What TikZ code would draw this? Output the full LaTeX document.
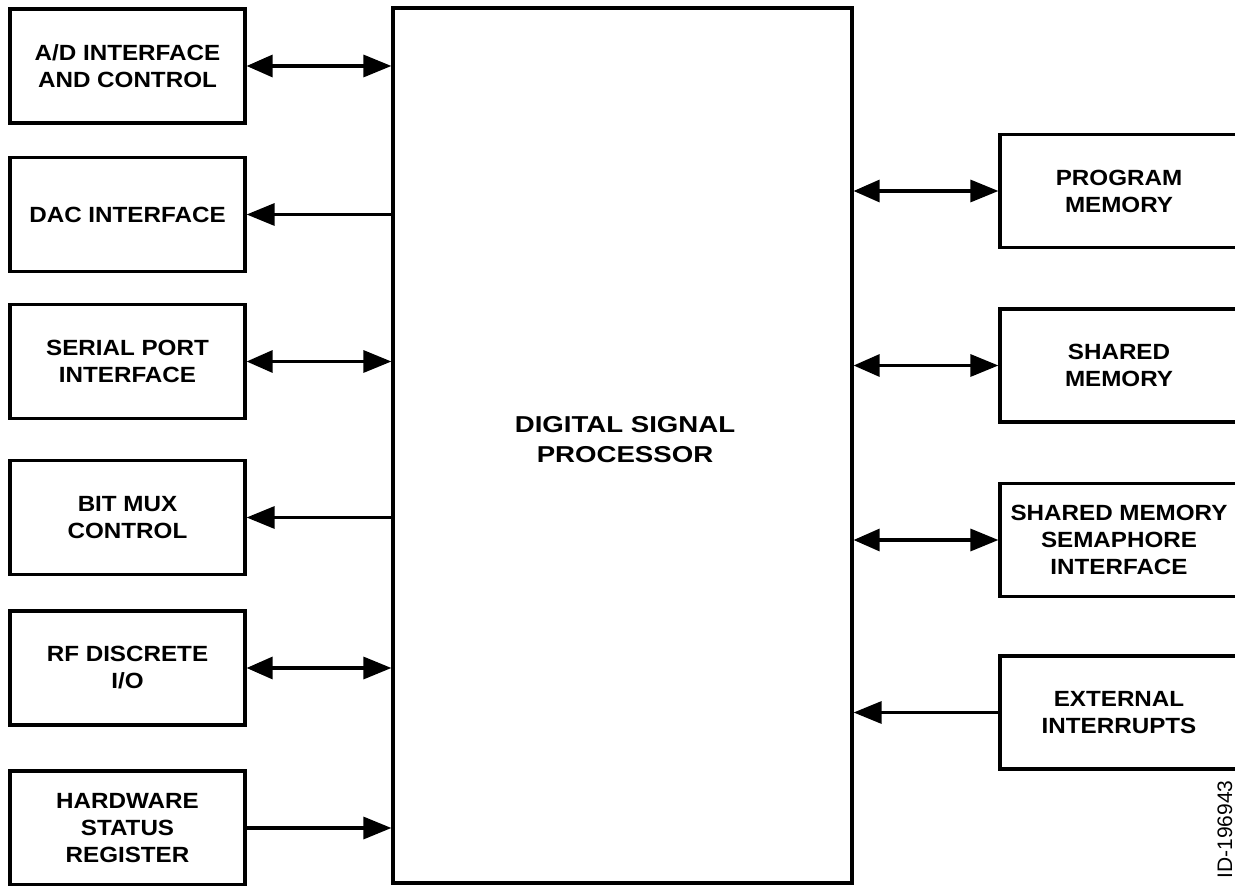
\documentclass[tikz,border=0pt]{standalone}
\usepackage{fontspec}
\setmainfont{Liberation Sans}
\newfontfamily\boxfont{Liberation Sans}[FakeStretch=1.1]
\newfontfamily\dspfont{Liberation Sans}[FakeStretch=1.2]
\usetikzlibrary{arrows.meta}
\begin{document}
\begin{tikzpicture}[x=0.5pt,y=-0.5pt,
  blk/.style={draw, line width=1.6pt, align=center, inner sep=0pt,
    font={\boxfont\bfseries\fontsize{11}{13.5}\selectfont}},
  lbox/.style={blk, minimum width=117.5pt, minimum height=57pt},
  rbox/.style={blk, minimum width=119pt, minimum height=56.5pt},
  link/.style={line width=1.6pt, -{Triangle[length=14pt,width=11pt]}},
  both/.style={line width=1.6pt, {Triangle[length=13pt,width=11pt]}-{Triangle[length=14pt,width=11pt]}},
]
\useasboundingbox (0,0) rectangle (1235,886);
\fill[white] (0,0) rectangle (1235,886);

\node[blk, minimum width=229.5pt, minimum height=437.5pt] (dsp) at (622.5,445.5) {};
\node[inner sep=0pt, align=center,
  font={\dspfont\bfseries\fontsize{11.5}{15}\selectfont}] (dsptext) at (625,440)
  {DIGITAL SIGNAL\\PROCESSOR};

\node[lbox] (ad)  at (127.5,66)    {A/D INTERFACE\\AND CONTROL};
\node[lbox] (dac) at (127.5,214.5) {DAC INTERFACE};
\node[lbox] (ser) at (127.5,361.5) {SERIAL PORT\\INTERFACE};
\node[lbox] (mux) at (127.5,517.5) {BIT MUX\\CONTROL};
\node[lbox] (rf)  at (127.5,668)   {RF DISCRETE\\I/O};
\node[lbox] (hw)  at (127.5,828)   {HARDWARE\\STATUS\\REGISTER};

\node[rbox] (pm)  at (1119,191)   {PROGRAM\\MEMORY};
\node[rbox] (sm)  at (1119,365.5) {SHARED\\MEMORY};
\node[rbox] (sem) at (1119,540)   {SHARED MEMORY\\SEMAPHORE\\INTERFACE};
\node[rbox] (ext) at (1119,712.5) {EXTERNAL\\INTERRUPTS};

\draw[both] (ad.east) -- (ad.east -| dsp.west);
\draw[link] (dac.east -| dsp.west) -- (dac.east);
\draw[both] (ser.east) -- (ser.east -| dsp.west);
\draw[link] (mux.east -| dsp.west) -- (mux.east);
\draw[both] (rf.east) -- (rf.east -| dsp.west);
\draw[link] (hw.east) -- (hw.east -| dsp.west);

\draw[both] (dsp.east |- pm.west) -- (pm.west);
\draw[both] (dsp.east |- sm.west) -- (sm.west);
\draw[both] (dsp.east |- sem.west) -- (sem.west);
\draw[link] (ext.west) -- (ext.west -| dsp.east);

\node[rotate=90, anchor=base east, inner sep=0pt,
  font={\fontsize{10.5}{13}\selectfont}] (id) at (1232,780) {ID-196943};
\end{tikzpicture}
\end{document}
